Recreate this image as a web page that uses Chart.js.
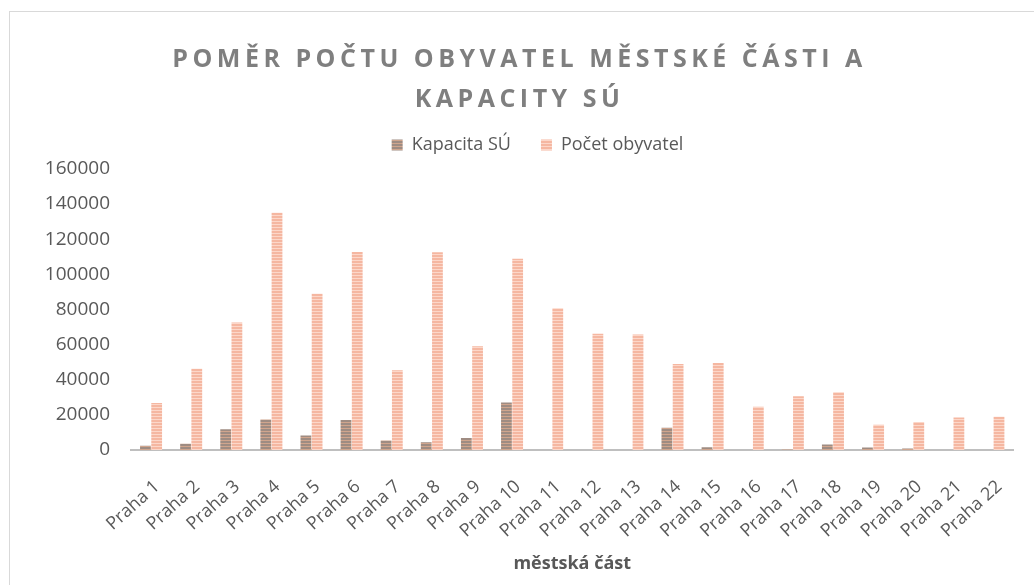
<!DOCTYPE html>
<html>
<head>
<meta charset="utf-8">
<script src="https://cdn.jsdelivr.net/npm/chart.js@4.4.1/dist/chart.umd.min.js"></script>
<style>
  html, body { margin: 0; padding: 0; background: #fff; overflow: hidden; }
  #frame { position: absolute; left: 9px; top: 11px; width: 1040px; height: 600px; border: 1px solid #d9d9d9; }
  #wrap { position: absolute; left: 0; top: 0; width: 1034px; height: 585px; }
</style>
</head>
<body>
<div id="frame"></div>
<div id="wrap"><canvas id="chart"></canvas></div>
<script>
const categories = ['Praha 1', 'Praha 2', 'Praha 3', 'Praha 4', 'Praha 5', 'Praha 6', 'Praha 7', 'Praha 8',
  'Praha 9', 'Praha 10', 'Praha 11', 'Praha 12', 'Praha 13', 'Praha 14', 'Praha 15', 'Praha 16',
  'Praha 17', 'Praha 18', 'Praha 19', 'Praha 20', 'Praha 21', 'Praha 22'];
const kapacitaSU = [2400, 3500, 11800, 17300, 8200, 17100, 5400, 4400, 6900, 27000, 0, 0,
  0, 12600, 1600, 0, 300, 3100, 1400, 800, 0, 0];
const pocetObyvatel = [26800, 46300, 72600, 135000, 88900, 112700, 45400, 112500, 59000, 108800, 80700, 66200,
  65800, 49000, 49500, 24600, 30600, 32900, 14400, 15900, 18500, 18900];
const yTicks = [0, 20000, 40000, 60000, 80000, 100000, 120000, 140000, 160000];

// horizontal stripes like the Excel fill pattern
function stripes(main, light) {
  const c = document.createElement('canvas');
  c.width = 4; c.height = 3;
  const g = c.getContext('2d');
  g.fillStyle = main;
  g.fillRect(0, 0, 4, 2);
  g.fillStyle = light;
  g.fillRect(0, 2, 4, 1);
  return g.createPattern(c, 'repeat');
}

const tweaks = {
  id: 'tweaks',
  afterLayout(chart) {
    // legend sits a bit right of centre in the original
    chart.legend.left += 18;
    chart.legend.right += 18;
  },
  beforeDraw(chart) {
    const tb = chart.titleBlock;
    if (tb && !tb._spaced) {
      const orig = tb.draw.bind(tb);
      tb.draw = function () {
        chart.ctx.save();
        chart.ctx.letterSpacing = '4.5px';
        orig();
        chart.ctx.restore();
      };
      tb._spaced = true;
    }
  }
};

const font = "'Open Sans', 'Noto Sans', sans-serif";

new Chart(document.getElementById('chart'), {
  type: 'bar',
  data: {
    labels: categories,
    datasets: [{
      label: 'Kapacita SÚ',
      data: kapacitaSU,
      backgroundColor: stripes('#9f8c82', '#d0a58d')
    }, {
      label: 'Počet obyvatel',
      data: pocetObyvatel,
      backgroundColor: stripes('#f5b7a1', '#fcd7c9')
    }]
  },
  options: {
    responsive: true,
    maintainAspectRatio: false,
    animation: false,
    categoryPercentage: 0.56,
    barPercentage: 0.96,
    layout: { padding: { left: 12, right: 7, top: 11, bottom: 10 } },
    plugins: {
      title: {
        display: true,
        text: ['POMĚR POČTU OBYVATEL MĚSTSKÉ ČÁSTI A', 'KAPACITY SÚ'],
        color: '#7f7f7f',
        font: { family: font, size: 25, weight: 'bold', lineHeight: 1.6 },
        padding: { top: 29, bottom: -14 }
      },
      legend: {
        labels: {
          color: '#595959',
          font: { family: font, size: 18 },
          boxWidth: 11,
          boxHeight: 11,
          padding: 30
        }
      },
      tooltip: { enabled: false }
    },
    scales: {
      x: {
        grid: { display: false, drawTicks: false },
        border: { color: '#bfbfbf', width: 2 },
        afterFit(axis) {
          axis.height = 125;
        },
        ticks: {
          color: '#595959',
          font: { family: font, size: 18 },
          minRotation: 42,
          maxRotation: 42,
          padding: 26,
          labelOffset: 6
        },
        title: {
          display: true,
          text: 'městská část',
          color: '#595959',
          font: { family: font, size: 18, weight: 'bold' },
          padding: { top: 0, bottom: 0 }
        }
      },
      y: {
        min: 0,
        max: 162800,
        grid: { display: false, drawTicks: false },
        border: { display: false },
        afterBuildTicks(axis) {
          axis.ticks = yTicks.map(v => ({ value: v }));
        },
        afterFit(axis) {
          axis.width = 119;
        },
        ticks: {
          color: '#595959',
          font: { family: font, size: 19 },
          padding: 21,
          callback: v => String(v)
        }
      }
    }
  },
  plugins: [tweaks]
});
</script>
</body>
</html>
